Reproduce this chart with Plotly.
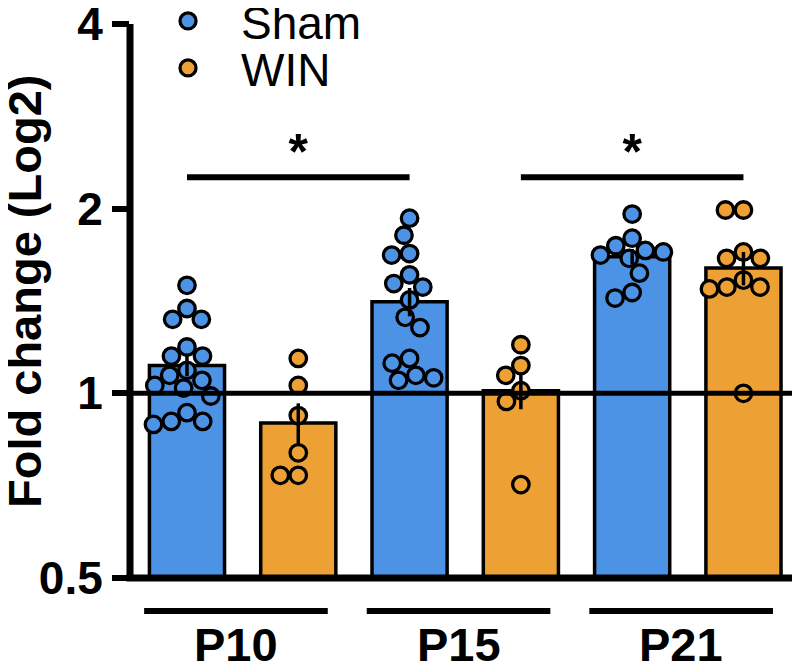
import numpy as np
import plotly.graph_objects as go

# ---------------- data ----------------
groups = ["P10", "P15", "P21"]
series_names = ["Sham", "WIN"]

sham_p10 = [1.50, 1.375, 1.32, 1.32, 1.19, 1.15, 1.15, 1.09, 1.07, 1.05, 1.03, 1.02, 0.99, 0.93, 0.90, 0.89, 0.90]
win_p10 = [1.14, 1.03, 0.92, 0.80, 0.735, 0.735]
sham_p15 = [1.93, 1.81, 1.69, 1.68, 1.56, 1.51, 1.49, 1.42, 1.33, 1.28, 1.14, 1.12, 1.07, 1.06, 1.05]
win_p15 = [1.20, 1.11, 1.07, 1.01, 0.97, 0.71]
sham_p21 = [1.96, 1.79, 1.74, 1.71, 1.70, 1.68, 1.66, 1.57, 1.46, 1.43]
win_p21 = [1.99, 1.99, 1.70, 1.66, 1.66, 1.53, 1.49, 1.49, 1.48, 1.00]

bar_means = [1.11, 0.895, 1.41, 1.01, 1.67, 1.60]
bar_sems = [0.044, 0.068, 0.075, 0.068, 0.049, 0.10]

sig_pairs = [(0, 2), (3, 5)]   # bar indices joined by significance lines
sig_level = 2.25
sig_text = "*"
ref_value = 1.0

y_ticks = [0.5, 1, 2, 4]
y_tick_labels = ["0.5", "1", "2", "4"]
y_title = "Fold change (Log2)"

# ---------------- style ----------------
FONT = "Liberation Sans, Arial, sans-serif"
COLORS = {"Sham": "#4C93E6", "WIN": "#EDA135"}
XRANGE = [-0.512, 5.508]
BAR_W = 0.675
# the page body adds an 8px margin, so the figure is 8px smaller on each side
W, H = 792, 655
M_L, M_R, M_T, M_B = 122, 0, 16, 85
AX_W = 7
PLOT_W, PLOT_H = W - M_L - M_R, H - M_T - M_B

series = [
    ("Sham", 0, sham_p10), ("WIN", 1, win_p10),
    ("Sham", 2, sham_p15), ("WIN", 3, win_p15),
    ("Sham", 4, sham_p21), ("WIN", 5, win_p21),
]

# pixel scales (for a simple beeswarm layout of the points)
px_per_x = PLOT_W / (XRANGE[1] - XRANGE[0])
px_per_log2 = PLOT_H / (np.log2(4) - np.log2(0.5))


def beeswarm(values, d=18.0, max_off=34.0):
    ys = np.log2(np.asarray(values, float)) * px_per_log2
    order = np.argsort(-ys)
    placed = []
    offs = np.zeros(len(ys))
    for i in order:
        y = ys[i]
        cands = [0.0]
        for (xj, yj) in placed:
            dy = abs(y - yj)
            if dy < d:
                dx = np.sqrt(d * d - dy * dy)
                cands += [xj - dx, xj + dx]
        cands = sorted(cands, key=lambda c: (abs(c), c))
        chosen = None
        for c in cands:
            ok = all((c - xj) ** 2 + (y - yj) ** 2 >= d * d - 1e-6 for (xj, yj) in placed)
            if ok:
                chosen = c
                break
        if chosen is None or abs(chosen) > max_off:
            grid = np.linspace(-max_off, max_off, 41)
            chosen = max(grid, key=lambda c: min([(c - xj) ** 2 + (y - yj) ** 2 for (xj, yj) in placed] or [1e9]))
        offs[i] = chosen
        placed.append((chosen, y))
    return offs / px_per_x


fig = go.Figure()

# bars
for name in series_names:
    idx = [k for k, s in enumerate(series) if s[0] == name]
    fig.add_trace(go.Bar(
        x=[series[k][1] for k in idx], y=[bar_means[k] for k in idx],
        width=BAR_W, marker=dict(color=COLORS[name], line=dict(color="black", width=3.5)),
        showlegend=False, hoverinfo="skip"))

# points
shown = set()
for name, xpos, vals in series:
    offs = beeswarm(vals)
    fig.add_trace(go.Scatter(
        x=xpos + offs, y=vals, mode="markers", name=name,
        legend="legend" if name == "Sham" else "legend2",
        showlegend=name not in shown,
        marker=dict(size=16.5, color=COLORS[name], line=dict(color="black", width=3.3)),
        cliponaxis=False))
    shown.add(name)

# error bars (SEM) drawn over the points
fig.add_trace(go.Scatter(
    x=[s[1] for s in series], y=bar_means, mode="markers",
    marker=dict(size=1, color="rgba(0,0,0,0)"),
    error_y=dict(type="data", array=bar_sems, visible=True, color="black", thickness=3.5, width=0),
    showlegend=False, hoverinfo="skip"))

# reference line at 1
fig.add_trace(go.Scatter(x=XRANGE, y=[ref_value, ref_value], mode="lines",
                         line=dict(color="black", width=5), showlegend=False, hoverinfo="skip",
                         cliponaxis=False))

# significance lines and asterisks
for a, b in sig_pairs:
    xa, xb = series[a][1], series[b][1]
    fig.add_trace(go.Scatter(x=[xa, xb], y=[sig_level, sig_level], mode="lines",
                             line=dict(color="black", width=6), showlegend=False, hoverinfo="skip"))
    fig.add_trace(go.Scatter(x=[(xa + xb) / 2], y=[sig_level * 1.08], mode="text", text=[sig_text],
                             textfont=dict(family=FONT, size=50, color="black", weight="bold"),
                             textposition="middle center", showlegend=False, hoverinfo="skip"))

# axis lines (centred on the plot edges, Prism style)
fig.add_shape(type="line", xref="paper", yref="paper", x0=0, x1=0, y0=0, y1=1,
              line=dict(color="black", width=AX_W), layer="above")
fig.add_shape(type="line", xref="paper", yref="paper", x0=-AX_W / 2 / PLOT_W, x1=1, y0=0, y1=0,
              line=dict(color="black", width=AX_W), layer="above")

# group underlines and labels
for g, label in enumerate(groups):
    x0 = 2 * g - 0.385
    x1 = 2 * g + 1 + 0.265
    fig.add_shape(type="line", xref="x", yref="paper", x0=x0, x1=x1, y0=-0.0596, y1=-0.0596,
                  line=dict(color="black", width=6))
    fig.add_annotation(x=(x0 + x1) / 2, xref="x", y=-0.12, yref="paper", text=label, showarrow=False,
                       font=dict(family=FONT, size=47, color="black", weight="bold"),
                       xanchor="center", yanchor="middle")

# y-axis title
fig.add_annotation(x=(16 - M_L) / PLOT_W, xref="paper", y=(PLOT_H + M_T - 284) / PLOT_H, yref="paper",
                   text=y_title, textangle=-90, showarrow=False,
                   font=dict(family=FONT, size=47, color="black", weight="bold"),
                   xanchor="center", yanchor="middle")

legend_common = dict(xanchor="left", yanchor="middle", bgcolor="rgba(0,0,0,0)",
                     font=dict(family=FONT, size=46, color="black"), itemwidth=96)
fig.update_layout(
    width=W, height=H, margin=dict(l=M_L, r=M_R, t=M_T, b=M_B, autoexpand=False),
    paper_bgcolor="white", plot_bgcolor="white", barmode="overlay",
    font=dict(family=FONT, color="black"),
    legend=dict(x=0.0075, y=1.0054, **legend_common),
    legend2=dict(x=0.0075, y=0.9206, **legend_common),
    xaxis=dict(range=XRANGE, showticklabels=False, ticks="", showgrid=False, zeroline=False,
               showline=False),
    yaxis=dict(type="log", range=[np.log10(0.5) - 1e-6, np.log10(4) + 1e-6], tickvals=y_ticks,
               ticktext=y_tick_labels, ticklabeloverflow="allow",
               ticks="outside", ticklen=17, tickwidth=6, tickcolor="black",
               tickfont=dict(family=FONT, size=46, color="black", weight="bold"),
               showgrid=False, zeroline=False, showline=False),
)

fig.write_html("out.html")
